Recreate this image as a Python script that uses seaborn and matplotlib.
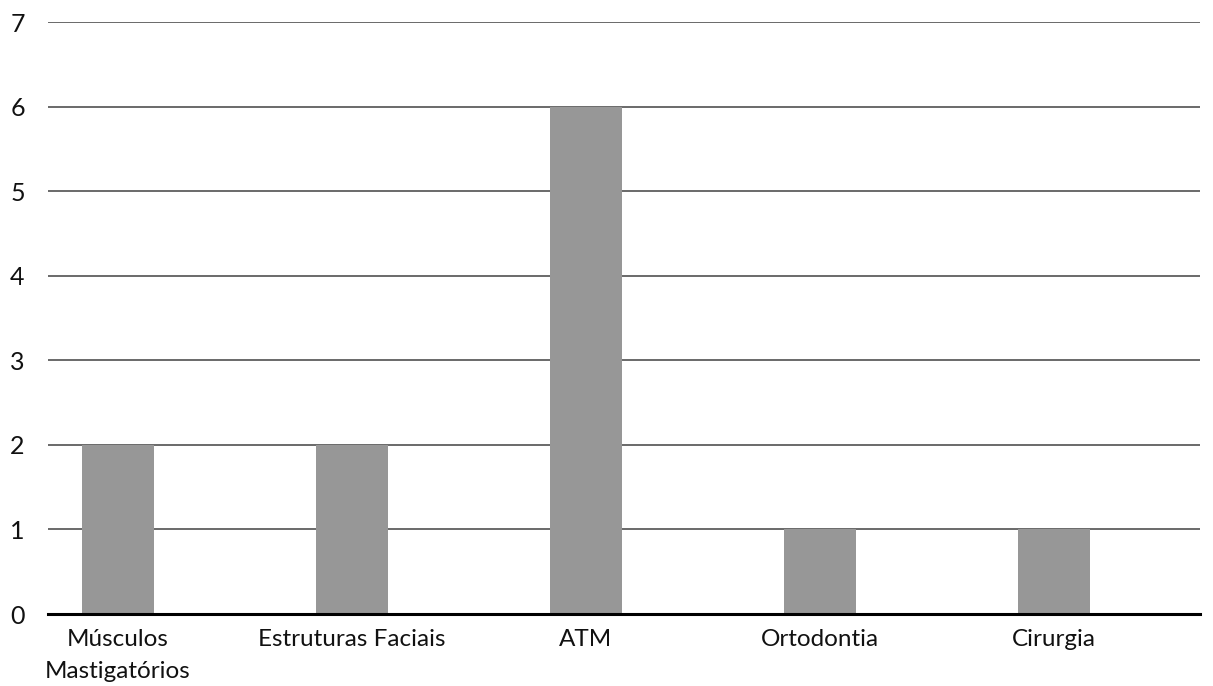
import matplotlib
matplotlib.use("Agg")
import matplotlib.pyplot as plt
import seaborn as sns
import pandas as pd

categories = ["Músculos\nMastigatórios", "Estruturas Faciais", "ATM", "Ortodontia", "Cirurgia"]
values = [2, 2, 6, 1, 1]
y_ticks = [0, 1, 2, 3, 4, 5, 6, 7]

sns.set_theme(style="white")
plt.rcParams["font.family"] = ["Lato", "DejaVu Sans"]

df = pd.DataFrame({"categoria": categories, "valor": values})

fig = plt.figure(figsize=(12.13, 6.86), dpi=100)
ax = fig.add_axes([48 / 1213, 1 - 614 / 686, (1200 - 48) / 1213, (614 - 22) / 686])

sns.barplot(data=df, x="categoria", y="valor", color="#979797", width=0.31,
            saturation=1, linewidth=0, edgecolor="none", ax=ax, zorder=3)

ax.set_ylim(0, 7)
ax.set_xlim(-0.299, 4.624)
ax.set_yticks(y_ticks)
ax.set_yticklabels([str(t) for t in y_ticks], fontsize=18, color="#111111")
ax.tick_params(axis="y", length=0, pad=22)
ax.tick_params(axis="x", length=0, pad=11, labelsize=17.5, labelcolor="#111111")
for lbl in ax.get_yticklabels():
    lbl.set_horizontalalignment("center")
for lbl in ax.get_xticklabels():
    lbl.set_linespacing(1.65)

ax.grid(axis="y", color="#505050", linewidth=1.2, zorder=0)
ax.grid(axis="x", visible=False)
ax.set_axisbelow(True)
for side in ["left", "right", "top"]:
    ax.spines[side].set_visible(False)
ax.spines["bottom"].set_color("#000000")
ax.spines["bottom"].set_linewidth(2.2)
ax.spines["bottom"].set_zorder(4)
ax.set_xlabel("")
ax.set_ylabel("")

fig.savefig("out.png", dpi=100)
